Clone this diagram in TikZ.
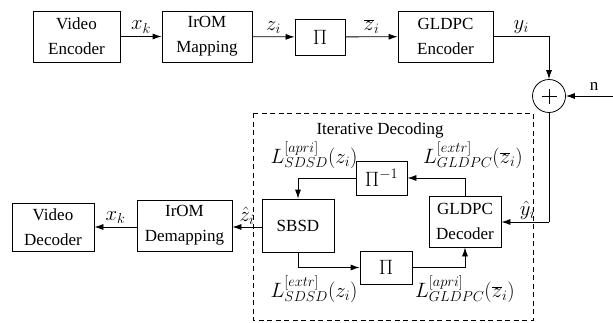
\documentclass[tikz,border=0pt]{standalone}
\usepackage{fontspec}
\setmainfont{Liberation Serif}
\usetikzlibrary{arrows.meta}
\begin{document}
\begin{tikzpicture}
[x=1pt,y=-1pt,line width=0.8pt,>={Latex[length=9pt,width=6pt]},%
  every node/.style={font=\fontsize{17}{25}\selectfont},
  blk/.style={draw,align=center,inner sep=0pt},
  lbl/.style={inner sep=0pt,font=\fontsize{21}{25}\selectfont},
  txt/.style={inner sep=0pt}]
\useasboundingbox (0,0) rectangle (613,322);
% transmitter
\node[blk,minimum width=87pt,minimum height=51pt] (venc) at (76.5,36.5) {Video\\Encoder};
\node[blk,minimum width=90pt,minimum height=51pt] (map) at (207,36.5) {IrOM\\Mapping};
\node[blk,lbl,draw,minimum width=50pt,minimum height=36pt] (pi) at (320,37) {$\Pi$};
\node[blk,minimum width=95pt,minimum height=51pt] (genc) at (445.5,36.5) {GLDPC\\Encoder};
\node[draw,circle,minimum size=33pt,inner sep=0pt] (sum) at (549,96) {};
\draw (sum.center) ++(0,-7.5) -- ++(0,15) (sum.center) ++(-7.5,0) -- ++(15,0);
\coordinate (nin) at (613,96);
\coordinate (bend) at (549,222);
\draw[->] (venc) -- node[lbl,above=3pt] {$x_k$} (map);
\draw[->] (map) -- node[lbl,above=3pt] {$z_i$} (pi);
\draw[->] (pi) -- node[lbl,above=3pt] {$\overline{z}_i$} (genc);
\draw[->] (genc.east) -| node[lbl,pos=0.25,above=3pt] {$y_i$} (sum.north);
\draw[->] (nin) -- node[txt,above,pos=0.4,yshift=5pt] {n} (sum.east);
% receiver
\draw[dash pattern=on 5pt off 3.5pt,line width=0.7pt] (253,113) rectangle (533,320);
\node[txt] (iter) at (380,130) {Iterative Decoding};
\node[blk,lbl,draw,minimum width=51pt,minimum height=34pt] (ipi) at (381.5,178) {$\Pi^{-1}$};
\node[blk,minimum width=72pt,minimum height=53pt] (sbsd) at (298,225.5) {SBSD};
\node[blk,minimum width=72pt,minimum height=51pt] (gdec) at (465,221.5) {GLDPC\\Decoder};
\node[blk,lbl,draw,minimum width=52pt,minimum height=33pt] (pi2) at (386,267.5) {$\Pi$};
\node[blk,minimum width=95pt,minimum height=51pt] (demap) at (184.5,225.5) {IrOM\\Demapping};
\node[blk,minimum width=82pt,minimum height=48pt] (vdec) at (53,227) {Video\\Decoder};
\draw (sum.south) -- (bend);
\draw[->] (bend) -- node[lbl,above=2pt,pos=0.45] {$\hat{y}_i$} (gdec.east |- bend);
\draw[->] (gdec.north) |- (ipi.east);
\draw[->] (ipi.west) -| (sbsd.north);
\draw[->] (sbsd.south) |- (pi2.west);
\draw[->] (pi2.east) -| (gdec.south);
\draw[->] (sbsd.west |- 0,227) -- node[lbl,above=2pt] {$\hat{z}_i$} (demap.east |- 0,227);
\draw[->] (demap.west |- 0,227) -- node[lbl,above=3pt] {$x_k$} (vdec.east |- 0,227);
\node[lbl] (lsa) at (314,155) {$L^{[apri]}_{SDSD}(z_i)$};
\node[lbl] (lge) at (473,155) {$L^{[extr]}_{GLDPC}(\overline{z}_i)$};
\node[lbl] (lse) at (314,289) {$L^{[extr]}_{SDSD}(z_i)$};
\node[lbl] (lga) at (465,289) {$L^{[apri]}_{GLDPC}(\overline{z}_i)$};
\end{tikzpicture}
\end{document}
